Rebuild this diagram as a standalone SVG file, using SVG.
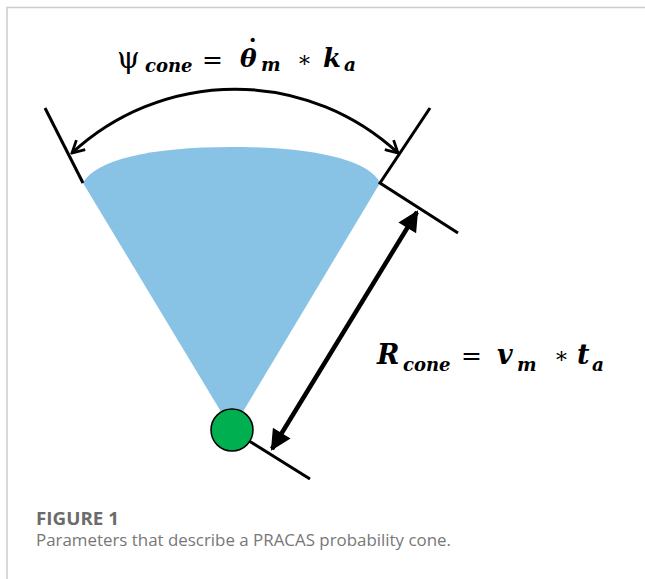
<svg xmlns="http://www.w3.org/2000/svg" width="645" height="579" viewBox="0 0 645 579">
<defs>
<style>
.frame{stroke:#cccccc;stroke-width:1.5;fill:none}
.ln{stroke:#000;stroke-width:3;fill:none;stroke-linecap:butt}
.eq{font-family:"DejaVu Serif","Liberation Serif",serif;font-weight:bold;font-style:italic;fill:#000}
.up{font-family:"DejaVu Serif","Liberation Serif",serif;font-weight:normal;font-style:normal;fill:#000}
.dot{font-family:"Liberation Serif",serif;font-weight:bold;font-style:normal;fill:#000}
.cap1{font-family:"Open Sans","Liberation Sans",sans-serif;font-weight:bold;font-size:17px;fill:#6b6b6b}
.cap2{font-family:"Open Sans","Liberation Sans",sans-serif;font-size:16.5px;fill:#777777}
</style>
<marker id="open" viewBox="0 0 16 16" refX="14" refY="8" markerWidth="16" markerHeight="16" markerUnits="userSpaceOnUse" orient="auto-start-reverse">
<polyline points="2,1.5 14,8 2,14.5" fill="none" stroke="#000" stroke-width="2.8"/>
</marker>
<marker id="solid" viewBox="0 0 10 10" refX="9" refY="5" markerWidth="5" markerHeight="4.6" orient="auto-start-reverse">
<path d="M0,0 L10,5 L0,10 z" fill="#000"/>
</marker>
</defs>
<rect width="645" height="579" fill="#fff"/>
<path class="frame" d="M7,579 V7.5 H645"/>
<g id="cone">
<path d="M232,430 L83,183 C95,160 150,147 232,147 C314,147 369,160 380,183 Z" fill="#88c3e6"/>
</g>
<g id="connectors">
<line class="ln" x1="45" y1="108" x2="83" y2="183"/>
<polyline class="ln" points="430,108 380,183 458,233"/>
<line class="ln" x1="233" y1="431" x2="310" y2="479"/>
<path class="ln" d="M72,153 A240,240 0 0 1 398,153" marker-start="url(#open)" marker-end="url(#open)"/>
<line x1="417" y1="212" x2="272" y2="449" stroke="#000" stroke-width="4.5" marker-start="url(#solid)" marker-end="url(#solid)"/>
</g>
<g id="source">
<circle cx="232" cy="430" r="21" fill="#00b050" stroke="#000" stroke-width="1.5"/>
</g>
<g id="eq-angle">
<text class="up" x="117" y="68" font-size="29">ψ</text>
<text class="eq" x="145" y="72" font-size="18">cone</text>
<text class="up" x="202" y="68" font-size="25">=</text>
<text class="eq" x="240" y="67" font-size="25">θ<tspan class="dot" x="248" y="57" font-size="28">˙</tspan></text>
<text class="eq" x="261" y="71" font-size="18.5">m</text>
<text class="up" x="297" y="67" font-size="22">∗</text>
<text class="eq" x="323" y="67" font-size="26">k</text>
<text class="eq" x="344" y="71" font-size="18.5">a</text>
</g>
<g id="eq-range">
<text class="eq" x="377" y="364" font-size="27">R</text>
<text class="eq" x="403" y="371" font-size="18">cone</text>
<text class="up" x="461" y="364" font-size="25">=</text>
<text class="eq" x="497" y="364" font-size="27">v</text>
<text class="eq" x="517" y="371" font-size="18.5">m</text>
<text class="up" x="554" y="363" font-size="22">∗</text>
<text class="eq" x="577" y="364" font-size="27">t</text>
<text class="eq" x="592" y="371" font-size="18.5">a</text>
</g>
<g id="caption">
<text class="cap1" x="36" y="525" textLength="83" lengthAdjust="spacingAndGlyphs">FIGURE 1</text>
<text class="cap2" x="36" y="546" textLength="415" lengthAdjust="spacingAndGlyphs">Parameters that describe a PRACAS probability cone.</text>
</g>
</svg>
